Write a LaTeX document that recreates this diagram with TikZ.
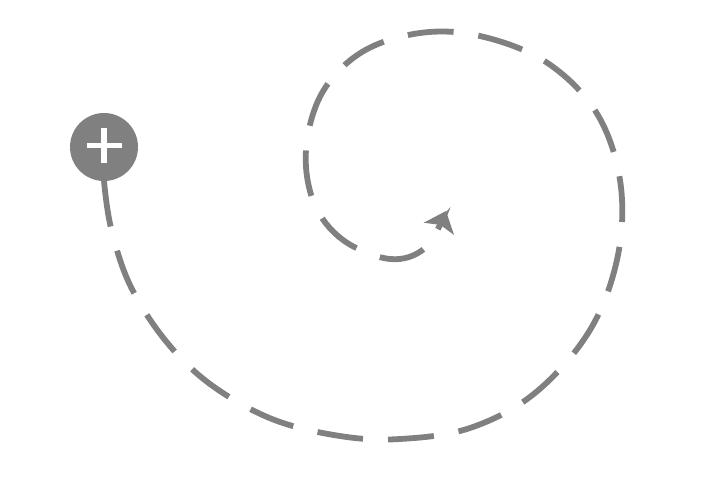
\documentclass[tikz,border=0pt]{standalone}
\usetikzlibrary{arrows.meta}
\definecolor{gr}{HTML}{808080}
\tikzset{
  addbtn/.style={circle, fill=gr, minimum size=68pt, inner sep=0pt},
  spiral/.style={draw=gr, line width=5.8pt, dash pattern=on 46pt off 25pt, -{Stealth[length=19pt,width=32pt,inset=4pt]}}
}
\begin{document}
\begin{tikzpicture}[x=1pt,y=-1pt]
\useasboundingbox (0,0) rectangle (719,488);
\node[addbtn] (btn) at (104,147) {};
\draw[white, line width=5.5pt] (btn.center) ++(-17.5,-1.5) -- ++(35,0);
\draw[white, line width=5.5pt] (btn.center) ++(0,-19) -- ++(0,35);
\coordinate (tip) at (446,211);
\draw[spiral] (btn.south) plot[smooth, tension=0.6] coordinates {(104,181) (111,228) (130,285) (165,340) (210,384) (272,419) (340,436) (400,439) (470,428) (535,393) (590,330) (618,255) (620,180) (596,112) (546,62) (480,36) (420,33) (362,52) (322,93) (306,150) (314,203) (343,240) (390,259) (425,248) (tip)};
\end{tikzpicture}
\end{document}
